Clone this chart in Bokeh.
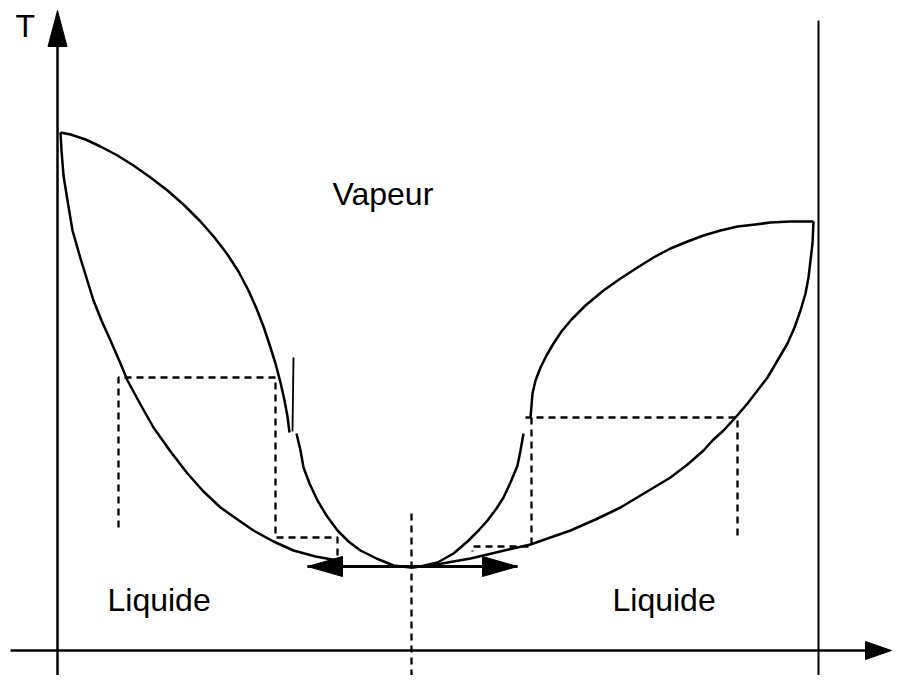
from bokeh.plotting import figure
from bokeh.models import Range1d
from bokeh.core.properties import value
from bokeh.embed import file_html
from bokeh.resources import INLINE

# ---- data (diagram coordinates; y grows downward) ----
# left lens: dew (vapour) curve and bubble (liquid) curve
left_dew_x = [60, 70, 85, 100, 117, 133, 150, 167, 184, 200, 214, 227, 238, 248, 256, 263, 269, 275, 280, 284, 287, 289]
left_dew_y = [132, 134, 139, 146, 155, 165, 177, 190, 205, 221, 237, 254, 271, 290, 308, 326, 344, 363, 382, 400, 416, 432]
left_bub_x = [60, 61, 63, 67, 72, 80, 93, 101, 110, 120, 127, 140, 153, 170, 187, 203, 220, 237, 253, 273, 293, 315, 337]
left_bub_y = [132, 150, 175, 200, 230, 258, 300, 320, 340, 363, 380, 404, 427, 451, 473, 491, 507, 519, 530, 541, 550, 556, 560]
# inner branches towards the azeotrope
inner_left_x = [296, 300, 303, 309, 317, 326, 337, 348, 360, 376, 393, 410]
inner_left_y = [433, 450, 467, 483, 500, 515, 530, 541, 550, 558, 565, 567]
inner_right_x = [410, 420, 437, 453, 467, 478, 487, 496, 503, 510, 517, 520, 523]
inner_right_y = [567, 566, 562, 553, 541, 530, 520, 508, 497, 482, 465, 450, 433]
# right lens
right_dew_x = [530, 531, 532, 535, 540, 546, 553, 561, 571, 585, 603, 620, 637, 653, 670, 687, 703, 720, 737, 755, 770, 790, 813]
right_dew_y = [417, 405, 393, 380, 367, 355, 343, 331, 319, 305, 290, 278, 267, 257, 248, 241, 235, 230, 226, 224, 222, 221, 221]
right_bub_x = [813, 812, 810, 808, 805, 800, 794, 787, 777, 767, 757, 747, 735, 723, 712, 703, 687, 670, 645, 620, 595, 570, 550, 530, 508, 487, 470, 453, 430, 410]
right_bub_y = [221, 243, 260, 277, 293, 310, 327, 343, 360, 377, 390, 403, 417, 430, 440, 450, 464, 477, 492, 507, 519, 530, 537, 544, 549, 554, 558, 561, 565, 567]
# thin sliver near the left inner branch
sliver_x = [293, 292]
sliver_y = [357, 431]

# construction (dashed) lines
dash_xs = [[118, 118, 275, 275, 337, 337],
           [737, 737, 525],
           [531, 531, 472, 472],
           [411, 411]]
dash_ys = [[527, 377, 377, 537, 537, 558],
           [535, 417, 417],
           [417, 546, 546, 551],
           [513, 680]]

# frame lines: axes and the pure-component vertical
axis_x0 = [57, 10, 818]
axis_y0 = [46, 650, 20]
axis_x1 = [57, 868, 818]
axis_y1 = [680, 650, 691]
axis_w = [2.5, 2.5, 2]

# double arrow at the azeotrope temperature
dbl_x = [307, 517]
dbl_y = [566, 566]

# arrow heads: tip position, direction, length, half-width
head_tip_x = [57, 891, 307, 517]
head_tip_y = [10, 650, 566, 566]
head_dir = ["up", "right", "left", "right"]
head_len = [36, 26, 35, 35]
head_half = [9.5, 9, 10, 10]

# labels
label_text = ["T", "Vapeur", "Liquide", "Liquide"]
label_x = [15, 332, 107, 612]
label_y = [25, 193, 599, 599]

# ---- figure ----
p = figure(width=892, height=675, x_range=Range1d(0, 892), y_range=Range1d(675, 0),
           output_backend="svg", toolbar_location=None, x_axis_type=None, y_axis_type=None,
           min_border=0, min_border_left=0, min_border_right=0, min_border_top=0, min_border_bottom=0)
p.grid.visible = False
p.outline_line_color = None
p.background_fill_color = "white"
p.border_fill_color = "white"

for xs, ys in [(left_dew_x, left_dew_y), (left_bub_x, left_bub_y),
               (inner_left_x, inner_left_y), (inner_right_x, inner_right_y),
               (right_dew_x, right_dew_y), (right_bub_x, right_bub_y)]:
    p.line(xs, ys, line_color="black", line_width=2.5, line_join="round")
p.line(sliver_x, sliver_y, line_color="black", line_width=1.8)

p.multi_line(dash_xs, dash_ys, line_color="black", line_width=2.3, line_dash="7 5")

p.segment(x0=axis_x0, y0=axis_y0, x1=axis_x1, y1=axis_y1, line_color="black", line_width=axis_w)
p.line(dbl_x, dbl_y, line_color="black", line_width=3)

hx, hy = [], []
for tx, ty, d, L, h in zip(head_tip_x, head_tip_y, head_dir, head_len, head_half):
    if d == "up":
        hx.append([tx, tx - h, tx + h]); hy.append([ty, ty + L, ty + L])
    elif d == "right":
        hx.append([tx, tx - L, tx - L]); hy.append([ty, ty - h, ty + h])
    else:
        hx.append([tx, tx + L, tx + L]); hy.append([ty, ty - h, ty + h])
p.patches(hx, hy, fill_color="black", line_color="black", line_width=1)

p.text(x=label_x, y=label_y, text=label_text, text_font=value("Liberation Sans"),
       text_font_size="32px", text_color="black", text_align="left", text_baseline="alphabetic")

open("out.html", "w").write(file_html(p, INLINE))
